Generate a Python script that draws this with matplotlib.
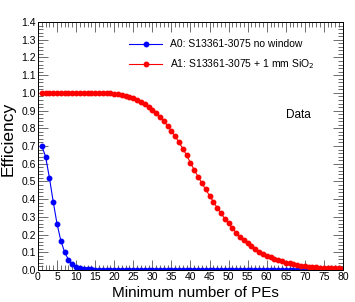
import numpy as np
import matplotlib
matplotlib.use("Agg")
import matplotlib.pyplot as plt
from matplotlib.ticker import MultipleLocator

plt.rcParams['font.family'] = ['Liberation Sans', 'DejaVu Sans']

# data
pe = list(range(1, 81))
eff_a0 = [0.70, 0.64, 0.52, 0.385, 0.26, 0.165, 0.10, 0.058, 0.033, 0.018,
          0.010, 0.006, 0.004, 0.003, 0.002] + [0.001] * 65
eff_a1 = [1.0] * 18 + [
    0.998, 0.996, 0.993, 0.990, 0.985, 0.978, 0.970, 0.960, 0.948, 0.935,
    0.920, 0.905, 0.886, 0.866, 0.842, 0.815, 0.785, 0.755, 0.720, 0.685,
    0.648, 0.605, 0.565, 0.527, 0.490, 0.455, 0.420, 0.386, 0.352, 0.320,
    0.290, 0.263, 0.236, 0.210, 0.188, 0.168, 0.150, 0.133, 0.118, 0.104,
    0.092, 0.081, 0.071, 0.063, 0.055, 0.048, 0.042, 0.037, 0.032, 0.028,
    0.025, 0.022, 0.019, 0.017, 0.015, 0.013, 0.012, 0.011, 0.010, 0.009,
    0.009, 0.008]
labels = ["A0: S13361-3075 no window", "A1: S13361-3075 + 1 mm SiO$_2$"]

fig = plt.figure(figsize=(3.55, 3.02), dpi=100)
ax = fig.add_axes([0.107, 0.106, 0.859, 0.821])

ax.plot(pe, eff_a0, color="#0000ff", lw=0.8, marker="o", ms=3.2, label=labels[0])
ax.plot(pe, eff_a1, color="#ff0000", lw=0.8, marker="o", ms=3.2, label=labels[1])

ax.set_xlim(0, 80)
ax.set_ylim(0, 1.4)
ax.xaxis.set_major_locator(MultipleLocator(5))
ax.xaxis.set_minor_locator(MultipleLocator(1))
ax.yaxis.set_major_locator(MultipleLocator(0.1))
ax.yaxis.set_minor_locator(MultipleLocator(0.02))
ax.yaxis.set_major_formatter(matplotlib.ticker.FormatStrFormatter('%.1f'))
ax.tick_params(which="both", direction="in", top=True, right=True, labelsize=7.5, pad=1.5, width=0.6, color="#555555")
ax.tick_params(which="major", length=7)
ax.tick_params(which="minor", length=3.5)
for s in ax.spines.values():
    s.set_linewidth(0.7)

ax.set_xlabel("Minimum number of PEs", fontsize=11)
ax.set_ylabel("Efficiency", fontsize=12.5)
ax.xaxis.set_label_coords(0.515, -0.065, transform=ax.transAxes)
ax.yaxis.set_label_coords(-0.072, 0.528, transform=ax.transAxes)
ax.xaxis.label.set_va("top")

ax.legend(loc="upper left", bbox_to_anchor=(0.30, 0.93), frameon=False, fontsize=7.5,
          handlelength=3.1, handletextpad=0.75, labelspacing=0.75, borderaxespad=0, borderpad=0)
ax.text(0.813, 0.625, "Data", transform=ax.transAxes, fontsize=8.5, ha="left", va="center")

fig.savefig("out.png", dpi=100)
